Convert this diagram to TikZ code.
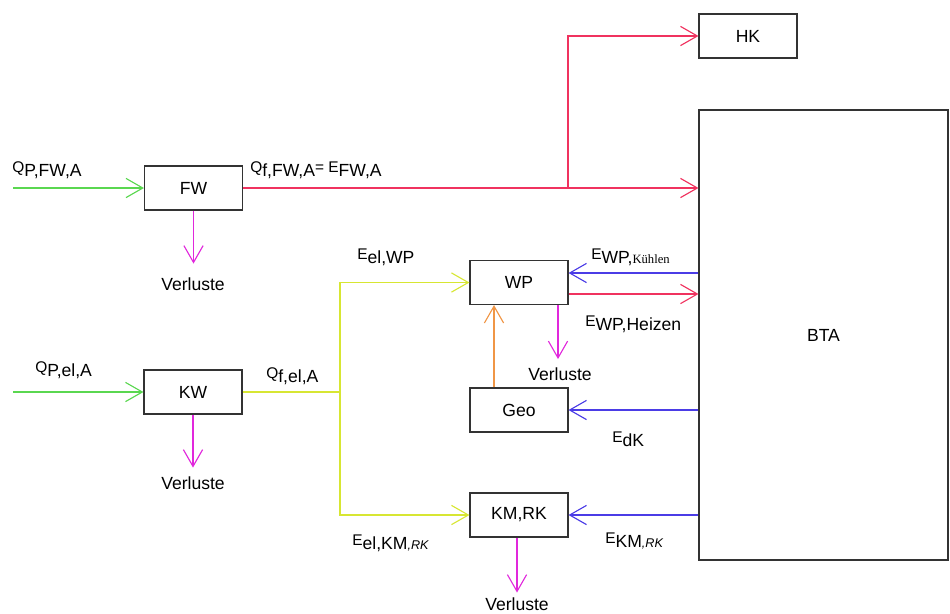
\documentclass[tikz,border=0pt]{standalone}
\usepackage{fontspec}
\setmainfont{Liberation Sans}
\newfontfamily\kuehlfont{Liberation Serif}
\usetikzlibrary{arrows.meta}
\definecolor{gruen}{RGB}{90,215,80}
\definecolor{rot}{RGB}{240,50,95}
\definecolor{lila}{RGB}{225,40,220}
\definecolor{gelb}{RGB}{215,230,50}
\definecolor{blau}{RGB}{75,60,230}
\definecolor{orng}{RGB}{240,150,70}
\newcommand{\grl}[2]{{\fontsize{11}{12}\selectfont #1}\raisebox{-0.55ex}{\fontsize{12.5}{14}\selectfont #2}}
\tikzset{
  kasten/.style={draw=black!80, line width=0.8pt, minimum width=24.5mm, minimum height=11mm, font=\fontsize{12.5}{15}\selectfont},
  pfeil/.style={line width=0.8pt, -{Straight Barb[length=4.2mm,width=4.8mm,line width=0.8pt]}},
  fluss/.style={line width=0.8pt},
  lbl/.style={anchor=west, inner sep=0pt},
  verl/.style={pfeil, lila},
  vtext/.style={font=\fontsize{12.5}{15}\selectfont},
}

\begin{document}
\begin{tikzpicture}[x=0.25mm,y=-0.25mm]
			%%%%% START %%%%%
			\useasboundingbox (0,0) rectangle (950,613);
			
			\node[kasten] (fw) at (193.5,188) {FW};
			\node[kasten] (kw) at (193,392) {KW};
			\node[kasten] (wp) at (519,282.5) {WP};
			\node[kasten] (geo) at (519,410) {Geo};
			\node[kasten] (kmrk) at (519,515) {KM,RK};
			\node[kasten] (hk) at (748,36) {HK};
			\node[kasten, minimum width=62.25mm, minimum height=112.5mm] (bta) at (823.5,335) {BTA};
			
			\coordinate (ein1) at (13,188);
			\coordinate (ein2) at (13,392);
			\coordinate (abzw) at (568,188);
			\coordinate (vert) at (340,392);
			
			% Fernwaerme
			\draw[pfeil, gruen] (ein1) -- (fw.west);
			\draw[pfeil, rot] (fw.east) -- (fw.east -| bta.west);
			\draw[pfeil, rot] (abzw) |- (hk.west);
			\draw[verl] (fw.south) -- +(0,53);
			
			% Kraftwerk
			\draw[pfeil, gruen] (ein2) -- (kw.west);
			\draw[fluss, gelb] (kw.east) -- (vert);
			\draw[pfeil, gelb] (vert) |- (wp.west);
			\draw[pfeil, gelb] (vert) |- (kmrk.west);
			\draw[verl] (kw.south) -- +(0,53);
			
			% WP, Geo, KM
			\draw[pfeil, orng] (geo.north -| 494,0) -- (wp.south -| 494,0);
			\draw[verl] (wp.south -| 558,0) -- +(0,54);
			\draw[verl] (kmrk.south -| 517,0) -- +(0,55);
			\draw[pfeil, blau] (bta.west |- 0,273) -- (wp.east |- 0,273);
			\draw[pfeil, rot] (wp.east |- 0,294) -- (bta.west |- 0,294);
			\draw[pfeil, blau] (bta.west |- geo) -- (geo.east);
			\draw[pfeil, blau] (bta.west |- kmrk) -- (kmrk.east);
			
			% Beschriftung
			\node[lbl] (l1) at (12,170) {\grl{Q}{P,FW,A}};
			\node[lbl] (l2) at (250,170) {\grl{Q}{f,FW,A}{\fontsize{11}{12}\selectfont= E}\raisebox{-0.55ex}{\fontsize{12.5}{14}\selectfont FW,A}};
			\node[lbl] (l3) at (35,370) {\grl{Q}{P,el,A}};
			\node[lbl] (l4) at (266,376) {\grl{Q}{f,el,A}};
			\node[lbl] (l5) at (357,257) {\grl{E}{el,WP}};
			\node[lbl] (l6) at (591,257) {\grl{E}{WP,{\kuehlfont\fontsize{9}{10}\selectfont K\"uhlen}}};
			\node[lbl] (l7) at (585,324) {\grl{E}{WP,Heizen}};
			\node[lbl] (l8) at (612,439) {\grl{E}{dK}};
			\node[lbl] (l9) at (352,543) {\grl{E}{el,KM{\fontsize{9}{10}\selectfont\itshape ,RK}}};
			\node[lbl] (l10) at (605,541) {\grl{E}{KM{\fontsize{9}{10}\selectfont\itshape ,RK}}};
			
			\node[vtext] (v1) at (193,284) {Verluste};
			\node[vtext] (v2) at (193,483) {Verluste};
			\node[vtext] (v3) at (560,374) {Verluste};
			\node[vtext] (v4) at (517,604) {Verluste};
			
			%%%%% END %%%%%
\end{tikzpicture}
\end{document}
